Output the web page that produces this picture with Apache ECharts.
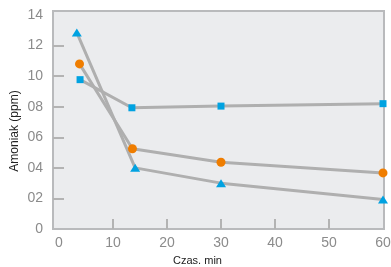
<!DOCTYPE html>
<html>
<head>
<meta charset="utf-8">
<script src="https://cdn.jsdelivr.net/npm/echarts@6/dist/echarts.min.js"></script>
<style>
  html, body { margin: 0; padding: 0; background: #fff; }
  #chart { width: 391px; height: 267px; }
</style>
</head>
<body>
<div id="chart"></div>
<script>
// tick labels
const xLabels = ["0", "10", "20", "30", "40", "50", "60"];
const yLabels = ["0", "02", "04", "06", "08", "10", "12", "14"];

// series: [czas, amoniak]
const triangleData = [[3.3, 12.85], [14.1, 4.0], [30, 3.0], [60, 1.93]];
const circleData = [[3.8, 10.8], [13.6, 5.25], [30, 4.37], [60, 3.67]];
const squareData = [[3.9, 9.77], [13.5, 7.93], [30, 8.04], [60, 8.2]];

const font = "Liberation Sans, Arial, sans-serif";
const blue = "#00a2e1";
const orange = "#ef7d00";
const lineGray = "#afafaf";
const labelGray = "#8b8b8b";
const frameGray = "#b9babc";
const tickGray = "#b3b3b3";

const myChart = echarts.init(document.getElementById("chart"));

//linie
function lineSeries(data) {
  return {
    type: "line",
    xAxisIndex: 3,
    yAxisIndex: 3,
    data: data,
    showSymbol: false,
    symbol: "none",
    lineStyle: { color: lineGray, width: 3 },
    z: 2,
    silent: true
  };
}

//znaczniki
function markerSeries(data, symbol, size, color) {
  return {
    type: "scatter",
    xAxisIndex: 3,
    yAxisIndex: 3,
    data: data,
    symbol: symbol,
    symbolSize: size,
    itemStyle: { color: color, opacity: 1 },
    z: 3
  };
}

const option = {
  animation: false,
  grid: [
    // tlo i ramka
    {
      left: 53, right: 7, top: 11, bottom: 38,
      outerBoundsMode: "none",
      show: true,
      backgroundColor: "#ebecee",
      borderColor: frameGray,
      borderWidth: 2
    },
    // os X (kreski i opisy)
    { left: 59, right: 8, top: 15, bottom: 38, outerBoundsMode: "none" },
    // os Y (kreski i opisy)
    { left: 53, right: 8, top: 15, bottom: 38, outerBoundsMode: "none" },
    // dane i nazwy osi
    { left: 59, right: 8, top: 15, bottom: 38, outerBoundsMode: "none" }
  ],
  xAxis: [
    { type: "value", gridIndex: 0, min: 0, max: 60, show: false },
    {
      type: "category",
      gridIndex: 1,
      data: xLabels,
      boundaryGap: false,
      axisLine: { lineStyle: { color: frameGray, width: 2 } },
      axisTick: {
        inside: true,
        length: 10,
        interval: (i) => i > 0 && i < 6,
        lineStyle: { color: tickGray, width: 2 }
      },
      axisLabel: { color: labelGray, fontSize: 14, margin: 7, fontFamily: font }
    },
    { type: "value", gridIndex: 2, min: 0, max: 60, show: false },
    {
      type: "value",
      gridIndex: 3,
      min: 0,
      max: 60,
      axisLine: { show: false },
      axisTick: { show: false },
      axisLabel: { show: false },
      splitLine: { show: false },
      name: "Czas. min",
      nameLocation: "middle",
      nameGap: 26,
      nameTextStyle: { color: "#222", fontSize: 11, fontFamily: font, padding: [0, 47, 0, 0] }
    }
  ],
  yAxis: [
    { type: "value", gridIndex: 0, min: 0, max: 14, show: false },
    { type: "value", gridIndex: 1, min: 0, max: 14, show: false },
    {
      type: "category",
      gridIndex: 2,
      data: yLabels,
      boundaryGap: false,
      axisLine: { lineStyle: { color: frameGray, width: 2 } },
      axisTick: {
        inside: true,
        length: 11,
        interval: (i) => i > 0 && i < 7,
        lineStyle: { color: tickGray, width: 2 }
      },
      axisLabel: { color: labelGray, fontSize: 14, margin: 10, fontFamily: font }
    },
    {
      type: "value",
      gridIndex: 3,
      min: 0,
      max: 14,
      axisLine: { show: false },
      axisTick: { show: false },
      axisLabel: { show: false },
      splitLine: { show: false },
      name: "Amoniak (ppm)",
      nameLocation: "middle",
      nameGap: 38,
      nameRotate: 90,
      nameTextStyle: { color: "#222", fontSize: 12, fontFamily: font, padding: [0, 18, 0, 0] }
    }
  ],
  series: [
    lineSeries(triangleData),
    lineSeries(circleData),
    lineSeries(squareData),
    markerSeries(triangleData, "triangle", [10, 8], blue),
    markerSeries(circleData, "circle", 9, orange),
    markerSeries(squareData, "rect", 7, blue)
  ]
};
myChart.setOption(option);
</script>
</body>
</html>
